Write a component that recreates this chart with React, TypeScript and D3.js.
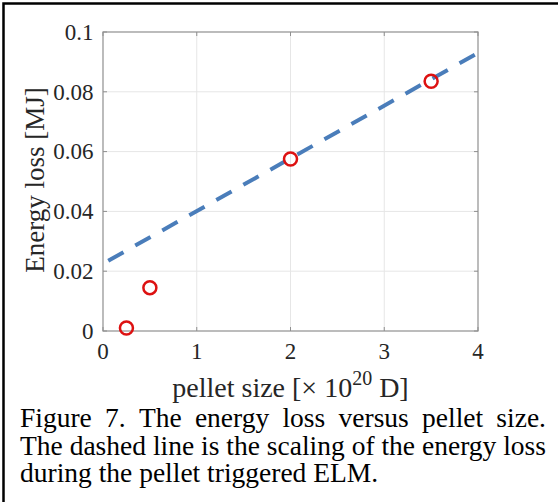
import React from 'react';
import * as d3 from 'd3';

const xTicks = [0, 1, 2, 3, 4];
const xTickLabels = ['0', '1', '2', '3', '4'];
const yTicks = [0, 0.02, 0.04, 0.06, 0.08, 0.1];
const yTickLabels = ['0', '0.02', '0.04', '0.06', '0.08', '0.1'];
const pelletSize = [0.25, 0.5, 2, 3.5];
const energyLoss = [0.001, 0.0145, 0.0575, 0.0835];
const fitX = [0, 4];
const fitY = [0.0225, 0.093];
const captionLines = [
  'Figure 7. The energy loss versus pellet size.',
  'The dashed line is the scaling of the energy loss',
  'during the pellet triggered ELM.',
];
const captionJustify = [true, true, false];

const SERIF = "'Liberation Serif', 'Times New Roman', serif";

let ctx: CanvasRenderingContext2D | null = null;
function measure(text: string, size: number) {
  if (!ctx) ctx = document.createElement('canvas').getContext('2d');
  if (!ctx) return text.length * size * 0.45;
  ctx.font = `${size}px ${SERIF}`;
  return ctx.measureText(text).width;
}

export default function App() {
  const W = 558, H = 502;
  const x = d3.scaleLinear().domain([0, 4]).range([103, 478]);
  const y = d3.scaleLinear().domain([0, 0.1]).range([331, 32]);
  const line = d3.line<number>().x((d, i) => x(fitX[i])).y((d) => y(d));

  const capSize = 27.5;
  const capLeft = 20, capRight = 546;
  const capBase = [427, 455, 482];

  const tick = 4;
  const axisColor = '#8f8f8f';
  const gridColor = '#e6e6e6';
  const textColor = '#262626';

  return (
    <svg width={W} height={H} style={{ position: 'absolute', left: 0, top: 0, background: '#fff' }} fontFamily={SERIF}>
      <rect x={0} y={0} width={W} height={H} fill="#fff" />
      <rect x={3.5} y={3.5} width={700} height={700} fill="none" stroke="#000" strokeWidth={2.5} />
      {/* grid */}
      {xTicks.slice(1, -1).map((t) => (
        <line key={'gx' + t} x1={x(t)} x2={x(t)} y1={y(0)} y2={y(0.1)} stroke={gridColor} strokeWidth={1} />
      ))}
      {yTicks.slice(1, -1).map((t) => (
        <line key={'gy' + t} x1={x(0)} x2={x(4)} y1={y(t)} y2={y(t)} stroke={gridColor} strokeWidth={1} />
      ))}
      {/* box */}
      <rect x={x(0)} y={y(0.1)} width={x(4) - x(0)} height={y(0) - y(0.1)} fill="none" stroke={axisColor} strokeWidth={1.2} />
      {/* ticks */}
      {xTicks.map((t) => (
        <g key={'xt' + t}>
          <line x1={x(t)} x2={x(t)} y1={y(0)} y2={y(0) - tick} stroke={axisColor} />
          <line x1={x(t)} x2={x(t)} y1={y(0.1)} y2={y(0.1) + tick} stroke={axisColor} />
        </g>
      ))}
      {yTicks.map((t) => (
        <g key={'yt' + t}>
          <line x1={x(0)} x2={x(0) + tick} y1={y(t)} y2={y(t)} stroke={axisColor} />
          <line x1={x(4)} x2={x(4) - tick} y1={y(t)} y2={y(t)} stroke={axisColor} />
        </g>
      ))}
      {/* tick labels */}
      {xTicks.map((t, i) => (
        <text key={'xl' + t} x={x(t)} y={359} fontSize={23} textAnchor="middle" fill={textColor}>{xTickLabels[i]}</text>
      ))}
      {yTicks.map((t, i) => (
        <text key={'yl' + t} x={93.5} y={y(t) + 7.8} fontSize={23} textAnchor="end" fill={textColor}>{yTickLabels[i]}</text>
      ))}
      {/* axis labels */}
      <text x={(x(0) + x(4)) / 2} y={397} fontSize={28} textAnchor="middle" fill={textColor}>
        pellet size [× 10<tspan dy={-12} fontSize={20}>20</tspan><tspan dy={12}> D]</tspan>
      </text>
      <text transform={`translate(43.5, 180) rotate(-90)`} fontSize={27} textAnchor="middle" fill={textColor}>
        Energy loss [MJ]
      </text>
      {/* fit line */}
      <path d={line(fitY) || ''} fill="none" stroke="#4a7dba" strokeWidth={4} strokeDasharray="17.5 13.5" strokeDashoffset={25} />
      {/* points */}
      {pelletSize.map((p, i) => (
        <circle key={'pt' + i} cx={x(p)} cy={y(energyLoss[i])} r={6.5} fill="none" stroke="#dd1111" strokeWidth={2.5} />
      ))}
      {/* caption */}
      {captionLines.map((ln, li) => {
        const words = ln.split(' ');
        if (!captionJustify[li]) {
          return <text key={'c' + li} x={capLeft} y={capBase[li]} fontSize={capSize} fill="#000">{ln}</text>;
        }
        const widths = words.map((w) => measure(w, capSize));
        const total = widths.reduce((a, b) => a + b, 0);
        const gap = (capRight - capLeft - total) / (words.length - 1);
        let cx = capLeft;
        return (
          <g key={'c' + li}>
            {words.map((w, wi) => {
              const xx = cx;
              cx += widths[wi] + gap;
              return <text key={wi} x={xx} y={capBase[li]} fontSize={capSize} fill="#000">{w}</text>;
            })}
          </g>
        );
      })}
    </svg>
  );
}
